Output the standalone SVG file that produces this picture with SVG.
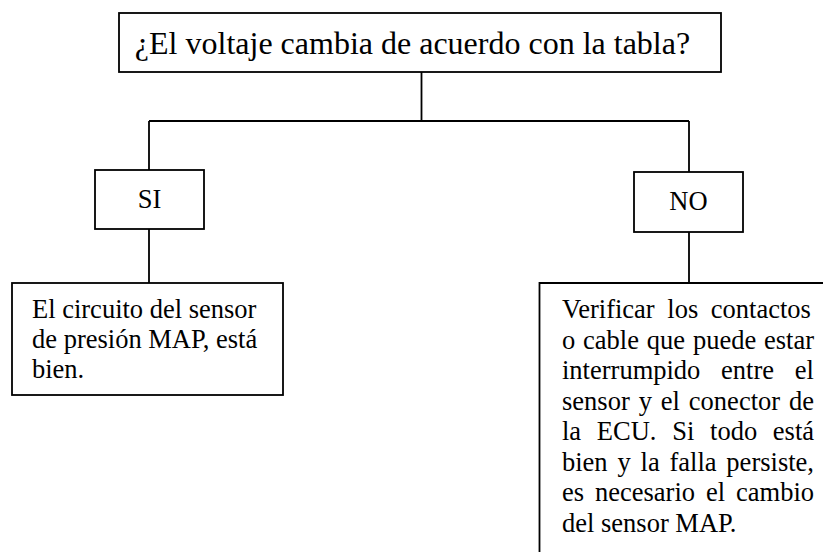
<svg xmlns="http://www.w3.org/2000/svg" width="823" height="552" viewBox="0 0 823 552">
<style>
.box{fill:#fff;stroke:#000;stroke-width:1.8}
.ln{fill:none;stroke:#000;stroke-width:1.8}
text{font-family:"Liberation Serif","Times New Roman",serif;fill:#000;font-size:26.5px}
.c{text-anchor:middle}
</style>
<rect width="823" height="552" fill="#fff"/>
<g id="connectors">
<path class="ln" d="M421.5 72 V121 M149 121 H689 M149 121 V170 M689 121 V172 M149 229 V283 M689 232 V283"/>
</g>
<g id="question">
<rect class="box" x="119" y="13" width="602" height="59"/>
<text class="c" x="412.5" y="54" style="font-size:32px">¿El voltaje cambia de acuerdo con la tabla?</text>
</g>
<g id="si">
<rect class="box" x="95" y="170" width="109" height="59"/>
<text class="c" x="149.5" y="208">SI</text>
</g>
<g id="no">
<rect class="box" x="634" y="172" width="109" height="60"/>
<text class="c" x="688.5" y="210">NO</text>
</g>
<g id="ok">
<rect class="box" x="12" y="283" width="271" height="112"/>
<text x="32" y="318">El circuito del sensor</text>
<text x="32" y="348">de presión MAP, está</text>
<text x="32" y="378">bien.</text>
</g>
<g id="check">
<path class="box" d="M830 283 H539.5 V560"/>
<text x="562" y="318" word-spacing="6">Verificar los contactos</text>
<text x="562" y="348.5" word-spacing="1.2">o cable que puede estar</text>
<text x="562" y="379" word-spacing="14.1">interrumpido entre el</text>
<text x="562" y="409.5" word-spacing="2.3">sensor y el conector de</text>
<text x="562" y="440" word-spacing="9.1">la ECU. Si todo está</text>
<text x="562" y="470.5" word-spacing="3.2">bien y la falla persiste,</text>
<text x="562" y="501" word-spacing="4.3">es necesario el cambio</text>
<text x="562" y="531.5">del sensor MAP.</text>
</g>
</svg>
